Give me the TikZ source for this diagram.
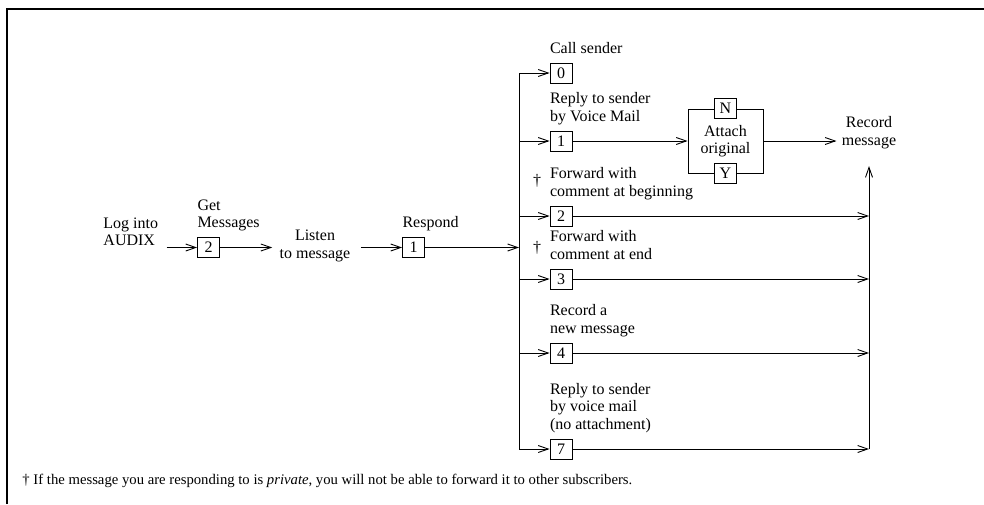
\documentclass[tikz,border=0pt]{standalone}
\usepackage{fontspec}
\setmainfont{Liberation Serif}
\usetikzlibrary{arrows.meta,calc}
\begin{document}
\begin{tikzpicture}[x=1pt,y=-1pt,
  >={Straight Barb[length=10pt,width=7pt]},
  line width=0.9pt,
  every node/.style={font=\fontsize{16}{17.5}\selectfont},
  numbox/.style={draw,fill=white,line width=0.9pt,minimum width=22pt,minimum height=20pt,inner sep=0pt},
  lbl/.style={anchor=south west,align=left,inner sep=0pt,text depth=0pt,yshift=9pt},
  txt/.style={align=center,inner sep=0pt},
  ]
\useasboundingbox (0,0) rectangle (984,504);
\draw[line width=1.4pt] (7,504) -- (7,9) -- (984,9);

% left chain
\node[txt,align=left,anchor=west] (login) at (103,232) {Log into\\AUDIX};
\node[numbox] (g2) at (208.5,247.5) {2};
\node[lbl] (g2l) at (g2.north west) {Get\\Messages};
\node[txt] (listen) at (315,246) {Listen\\to message};
\node[numbox] (r1) at (413.5,247.5) {1};
\node[lbl] (r1l) at (r1.north west) {Respond};

\coordinate (ls) at ($(login.east |- g2.west)+(8,0)$);
\draw[->] (ls) -- (g2.west);
\coordinate (lt) at ($(listen.west |- g2.east)+(-7,0)$);
\draw[->] (g2.east) -- (lt);
\coordinate (lf) at ($(listen.east |- r1.west)+(10,0)$);
\draw[->] (lf) -- (r1.west);

% left bus
\coordinate (j0) at (519,73);
\coordinate (j1) at (519,141);
\coordinate (jr) at (519,247.5);
\coordinate (j2) at (519,216);
\coordinate (j3) at (519,279);
\coordinate (j4) at (519,353);
\coordinate (j7) at (519,449);
\draw (j0) -- (j7);
\draw[->] (r1.east) -- (jr);

% option boxes
\node[numbox] (b0) at (561,73) {0};
\node[numbox] (b1) at (561,141) {1};
\node[numbox] (b2) at (561,216) {2};
\node[numbox] (b3) at (561,279) {3};
\node[numbox] (b4) at (561,353) {4};
\node[numbox] (b7) at (561,449) {7};
\foreach \i in {0,1,2,3,4,7} {\draw[->] (j\i) -- (b\i.west);}

\node[lbl] (l0) at (b0.north west) {Call sender};
\node[lbl] (l1) at (b1.north west) {Reply to sender\\by Voice Mail};
\node[lbl] (l2) at (b2.north west) {Forward with\\comment at beginning};
\node[lbl] (l3) at (b3.north west) {Forward with\\comment at end};
\node[lbl] (l4) at (b4.north west) {Record a\\new message};
\node[lbl] (l7) at (b7.north west) {Reply to sender\\by voice mail\\(no attachment)};
\node[inner sep=0pt] (d2) at (537,181) {†};
\node[inner sep=0pt] (d3) at (537,248) {†};

% attach original
\node[draw,minimum width=75pt,minimum height=64pt,inner sep=0pt] (af) at (725.5,141) {};
\node[txt] (att) at (af.center) {Attach\\original};
\node[numbox] (bn) at (af.north) {N};
\node[numbox] (by) at (af.south) {Y};
\draw[->] (b1.east) -- (af.west);

% record message
\node[txt] (rec) at (869,132.5) {Record\\message};
\coordinate (rw) at ($(rec.west |- af.east)+(-5,0)$);
\draw[->] (af.east) -- (rw);
\coordinate (k2) at (869,216);
\coordinate (k3) at (869,279);
\coordinate (k4) at (869,353);
\coordinate (k7) at (869,449);
\coordinate (rtop) at (869,166);
\draw[->] (k7) -- (rtop);
\foreach \i in {2,3,4,7} {\draw[->] (b\i.east) -- (k\i);}

% footnote
\node[anchor=west,inner sep=0pt,font=\fontsize{14.7}{16}\selectfont] (fn) at (22,481)
  {† If the message you are responding to is \textit{private}, you will not be able to forward it to other subscribers.};
\end{tikzpicture}
\end{document}
